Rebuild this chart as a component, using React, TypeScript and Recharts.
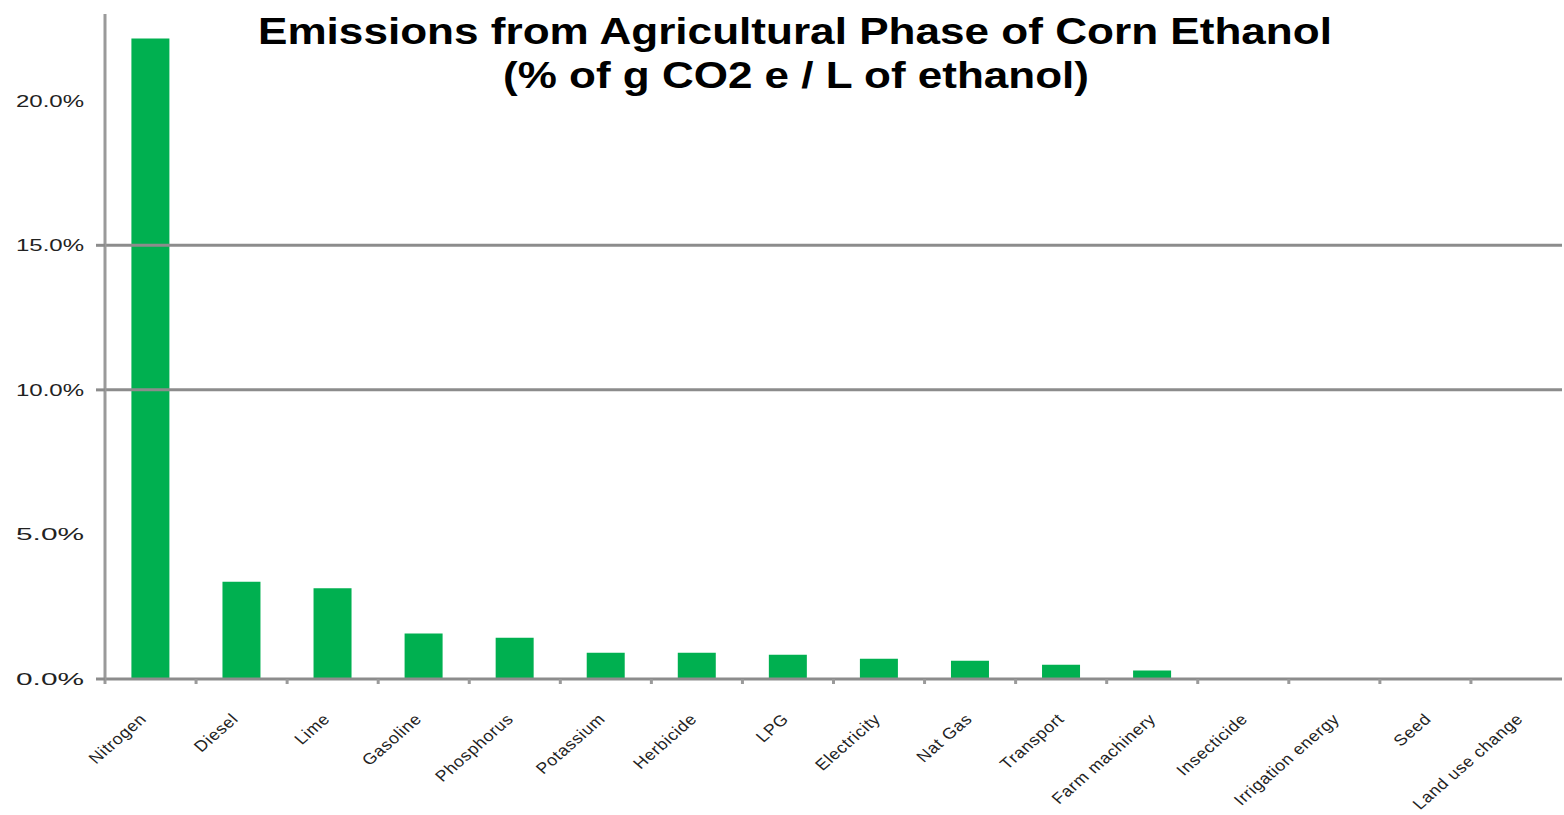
import React from "react";
import { BarChart, Bar, XAxis, YAxis, ReferenceLine } from "recharts";

const categories = [
  "Nitrogen",
  "Diesel",
  "Lime",
  "Gasoline",
  "Phosphorus",
  "Potassium",
  "Herbicide",
  "LPG",
  "Electricity",
  "Nat Gas",
  "Transport",
  "Farm machinery",
  "Insecticide",
  "Irrigation energy",
  "Seed",
  "Land use change",
];
const shares = [22.15, 3.36, 3.14, 1.57, 1.43, 0.91, 0.91, 0.84, 0.7, 0.63, 0.49, 0.29, 0.03, 0.03, 0, 0];
const yTicks = [0, 5, 10, 15, 20];
const gridValues = [10, 15];
const titleLine1 = "Emissions from Agricultural Phase of Corn Ethanol";
const titleLine2 = "(% of g CO2 e / L of ethanol)";

const data = categories.map((name, i) => ({ name, value: shares[i] }));

const W = 1564;
const H = 815;
const MARGIN = { top: 14, right: 2, left: 0, bottom: 6 };
const Y_W = 105;
const X_H = 130;
const BAND = (W - MARGIN.right - MARGIN.left - Y_W) / categories.length;
const FONT = "'Liberation Sans', Arial, sans-serif";
const STRETCH = 1.15;

function YTick(props: any) {
  const { x, y, payload } = props;
  const v = payload.value as number;
  return (
    <g>
      {(v === 0 || gridValues.includes(v)) && (
        <line x1={Y_W - 9} x2={Y_W} y1={y} y2={y} stroke="#8c8c8c" strokeWidth={3} />
      )}
      <text
        x={x}
        y={y}
        dy={6}
        textAnchor="end"
        fontSize={17}
        fontFamily={FONT}
        fill="#222"
        textLength={68}
        lengthAdjust="spacingAndGlyphs"
      >
        {`${v.toFixed(1)}%`}
      </text>
    </g>
  );
}

function XTick(props: any) {
  const { x, y, payload, index } = props;
  const bx = x - BAND / 2;
  const tx = x - 3 + (index || 0) * 0.7;
  const ty = y + 33;
  return (
    <g>
      <line x1={bx} x2={bx} y1={y - 8} y2={y - 3} stroke="#9a9a9a" strokeWidth={3} />
      <text
        x={0}
        y={0}
        textAnchor="end"
        fontSize={15.5}
        fontFamily={FONT}
        letterSpacing={0.6}
        fill="#222"
        transform={`translate(${tx},${ty}) scale(${STRETCH},1) rotate(-45)`}
      >
        {payload.value}
      </text>
    </g>
  );
}

export default function App() {
  return (
    <div style={{ position: "absolute", left: 0, top: 0, width: W, height: H, background: "#fff" }}>
      <BarChart width={W} height={H} data={data} margin={MARGIN} barCategoryGap="29%">
        <ReferenceLine y={10} stroke="#8c8c8c" strokeWidth={3} />
        <ReferenceLine y={15} stroke="#8c8c8c" strokeWidth={3} />
        <XAxis
          dataKey="name"
          interval={0}
          height={X_H}
          tickLine={false}
          tickSize={0}
          tickMargin={8}
          axisLine={{ stroke: "#8c8c8c", strokeWidth: 3 }}
          tick={<XTick />}
        />
        <YAxis
          width={Y_W}
          domain={[0, 23]}
          ticks={yTicks}
          allowDataOverflow
          tickLine={false}
          tickSize={0}
          tickMargin={21}
          axisLine={{ stroke: "#9a9a9a", strokeWidth: 3 }}
          tick={<YTick />}
        />
        <Bar dataKey="value" fill="#00B050" isAnimationActive={false} />
      </BarChart>
      <svg
        width={W}
        height={110}
        style={{ position: "absolute", left: 0, top: 0, pointerEvents: "none" }}
      >
        <text
          x={795}
          y={44}
          textAnchor="middle"
          fontFamily={FONT}
          fontWeight="bold"
          fontSize={37}
          fill="#000"
          textLength={1074}
          lengthAdjust="spacingAndGlyphs"
        >
          {titleLine1}
        </text>
        <text
          x={796}
          y={88}
          textAnchor="middle"
          fontFamily={FONT}
          fontWeight="bold"
          fontSize={37}
          fill="#000"
          textLength={586}
          lengthAdjust="spacingAndGlyphs"
        >
          {titleLine2}
        </text>
      </svg>
    </div>
  );
}
